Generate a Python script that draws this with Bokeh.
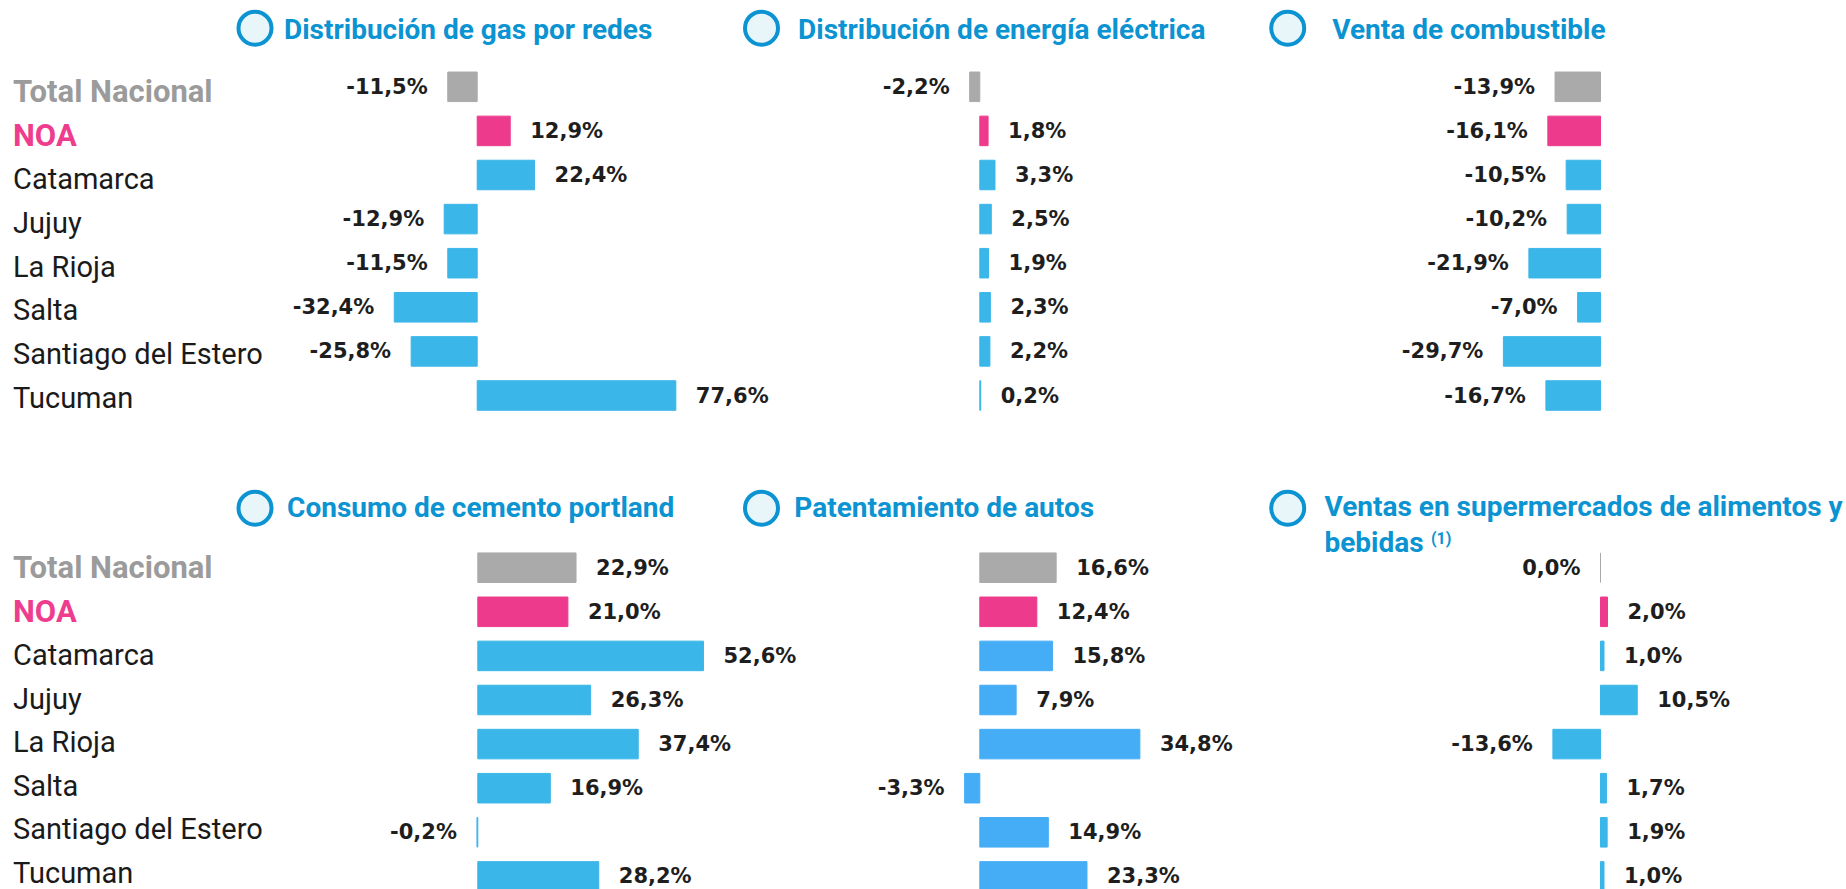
from bokeh.plotting import figure
from bokeh.models import Range1d, ColumnDataSource
from bokeh.core.properties import value
from bokeh.embed import file_html
from bokeh.resources import INLINE

# ---------------- data ----------------
categories = ["Total Nacional", "NOA", "Catamarca", "Jujuy", "La Rioja",
              "Salta", "Santiago del Estero", "Tucuman"]
gas = [-11.5, 12.9, 22.4, -12.9, -11.5, -32.4, -25.8, 77.6]
electricidad = [-2.2, 1.8, 3.3, 2.5, 1.9, 2.3, 2.2, 0.2]
combustible = [-13.9, -16.1, -10.5, -10.2, -21.9, -7.0, -29.7, -16.7]
cemento = [22.9, 21.0, 52.6, 26.3, 37.4, 16.9, -0.2, 28.2]
autos = [16.6, 12.4, 15.8, 7.9, 34.8, -3.3, 14.9, 23.3]
supermercados = [0.0, 2.0, 1.0, 10.5, -13.6, 1.7, 1.9, 1.0]
titles = ["Distribución de gas por redes", "Distribución de energía eléctrica",
          "Venta de combustible", "Consumo de cemento portland",
          "Patentamiento de autos", "Ventas en supermercados de alimentos y"]
title_line2 = "bebidas"
title_note = "(1)"

# ---------------- layout / style ----------------
W, H = 1846, 889
SX, SY = 0, 0
BLUE_T = "#0b93d2"
GRAY, PINK, BLUE, BLUE2 = "#aaaaaa", "#ee3a8c", "#3bb6e8", "#45adf6"
FONT = value("Roboto")
VFONT = value("DejaVu Sans")

p = figure(width=W, height=H, x_range=Range1d(0, W), y_range=Range1d(H, 0),
           output_backend="svg", toolbar_location=None,
           x_axis_type=None, y_axis_type=None, min_border=0)
p.outline_line_color = None
p.background_fill_color = "white"
p.border_fill_color = "white"

# rows: bar center of first row and spacing (reference pixels)
bar_c0 = [86.3, 567.2]
bar_dy = 44.1
lab_c0 = [91.2, 567.2]
lab_dy = [43.7, 43.6]

extra_y = {}
for r in range(2):
    c = bar_c0[r] - SY
    extra_y[f"bars{r}"] = Range1d(start=(H - c) / bar_dy, end=-c / bar_dy)
    c = lab_c0[r] - SY
    extra_y[f"labs{r}"] = Range1d(start=(H - c) / lab_dy[r], end=-c / lab_dy[r])

# panel: series, zero x, px per %, row, title x, circle x, bar blue
panels = [
    (gas, 476.7, 2.56, 0, 283.5, 254.5, BLUE),
    (electricidad, 979.3, 4.6, 0, 797.6, 761.0, BLUE),
    (combustible, 1600.0, 3.27, 0, 1331.7, 1287.2, BLUE),
    (cemento, 477.3, 4.29, 1, 286.6, 254.5, BLUE),
    (autos, 979.3, 4.6, 1, 793.8, 761.0, BLUE2),
    (supermercados, 1600.0, 3.5, 1, 1324.0, 1287.2, BLUE),
]
title_y = [28.8, 507.0]
circle_y = [27.7, 507.7]

extra_x = {}
for k, (vals, z, s, r, tx, cx, blue) in enumerate(panels):
    zc = z - SX
    extra_x[f"px{k}"] = Range1d(start=-zc / s, end=(W - zc) / s)
p.extra_x_ranges = extra_x
p.extra_y_ranges = extra_y

for k, (vals, z, s, r, tx, cx, blue) in enumerate(panels):
    idx = list(range(len(categories)))
    colors = [GRAY if i == 0 else PINK if i == 1 else blue for i in idx]
    src = ColumnDataSource(dict(
        y=idx, v=vals, c=colors,
        lab=[f"{v:.1f}".replace(".", ",") + "%" for v in vals],
        off=[20 if v > 0 else -20 for v in vals],
        al=["left" if v > 0 else "right" for v in vals],
    ))
    p.hbar(y="y", left=0, right="v", height=0.67, fill_color="c", line_color="c",
           line_width=1, source=src, x_range_name=f"px{k}", y_range_name=f"bars{r}")
    p.text(x="v", y="y", text="lab", x_offset="off", text_align="al",
           text_baseline="middle", text_font=VFONT, text_font_style="bold",
           text_font_size="21px", text_color="#1e1e1e", source=src,
           x_range_name=f"px{k}", y_range_name=f"bars{r}")
    # title with circle icon
    p.scatter(x=[cx - SX], y=[circle_y[r] - SY], marker="circle", size=33,
              fill_color="#e8f6fa", line_color=BLUE_T, line_width=4)
    ty = title_y[r] - SY if k != 5 else 505.5 - SY
    p.text(x=[tx - SX], y=[ty], text=[titles[k]], text_font=FONT,
           text_font_style="bold", text_font_size="28px", text_color=BLUE_T,
           text_baseline="middle", text_align="left")

# second line of last title and its note
p.text(x=[1324 - SX], y=[541.5 - SY], text=[title_line2], text_font=FONT,
       text_font_style="bold", text_font_size="28px", text_color=BLUE_T,
       text_baseline="middle", text_align="left")
p.text(x=[1430.5 - SX], y=[537.5 - SY], text=[title_note], text_font=FONT,
       text_font_style="bold", text_font_size="16px", text_color=BLUE_T,
       text_baseline="middle", text_align="left")

# row labels (left side of both rows)
for r in range(2):
    idx = list(range(len(categories)))
    lcol = ["#9b9b9b" if i == 0 else "#ee3d8f" if i == 1 else "#1a1a1a" for i in idx]
    lsty = ["bold" if i < 2 else "normal" for i in idx]
    lsize = ["31px" if i < 2 else "29px" for i in idx]
    lsrc = ColumnDataSource(dict(y=idx, t=categories, c=lcol, st=lsty, fs=lsize))
    p.text(x=12.5 - SX, y="y", text="t", text_color="c", text_font_style="st",
           text_font=FONT, text_font_size="fs", text_baseline="middle",
           text_align="left", source=lsrc, y_range_name=f"labs{r}")

open("out.html", "w").write(file_html(p, INLINE))
